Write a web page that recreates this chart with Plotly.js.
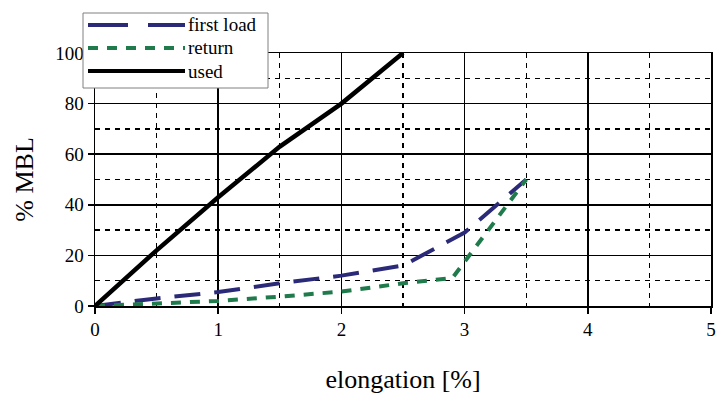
<!DOCTYPE html>
<html><head><meta charset="utf-8">
<script src="https://cdn.plot.ly/plotly-3.0.1.min.js"></script>
<style>html,body{margin:0;padding:0;background:#fff}</style>
</head><body>
<div id="chart" style="width:727px;height:408px"></div>
<script>
const seriesNames = ["first load", "return", "used"];
const firstLoadX = [0, 0.5, 1, 1.5, 2, 2.5, 3, 3.5];
const firstLoadY = [0, 3, 5.5, 9, 12, 16, 29, 50];
const returnX = [0, 0.5, 1, 1.5, 2, 2.5, 2.9, 3.5];
const returnY = [0, 1, 2, 3.7, 5.7, 9, 11, 50];
const usedX = [0, 0.5, 1, 1.5, 2, 2.5];
const usedY = [0, 22, 43, 63, 80, 100];
const xTicks = [0, 1, 2, 3, 4, 5];
const yTicks = [0, 20, 40, 60, 80, 100];

const colors = ["#2b2a78", "#1f7a4c", "#000000"];
const dashes = ["26px,14px", "10px,9px", "solid"];
const FONT = "Liberation Serif";

const traces = [
  {x: firstLoadX, y: firstLoadY, name: seriesNames[0], mode: "lines", line: {color: colors[0], width: 4, dash: dashes[0]}},
  {x: returnX, y: returnY, name: seriesNames[1], mode: "lines", line: {color: colors[1], width: 4, dash: dashes[1]}},
  {x: usedX, y: usedY, name: seriesNames[2], mode: "lines", line: {color: colors[2], width: 4.5, dash: dashes[2]}}
];

const W = 727, H = 408;
const ML = 95, MR = 16, MT = 53, MB = 102;
const PW = W - ML - MR, PH = H - MT - MB;
const px = (p) => (p - ML) / PW, py = (p) => (H - MB - p) / PH;
const shapes = [
  {type: "rect", xref: "paper", yref: "paper", x0: px(83), x1: px(268), y0: py(88), y1: py(13),
   line: {color: "#808080", width: 1}, fillcolor: "#ffffff", layer: "above"}
];
const annotations = [];
const rows = [25, 48, 71];
seriesNames.forEach((n, i) => {
  shapes.push({type: "line", xref: "paper", yref: "paper", x0: px(88), x1: px(185), y0: py(rows[i]), y1: py(rows[i]),
    line: {color: colors[i], width: 4, dash: i === 0 ? "40px,20px" : dashes[i]}, layer: "above"});
  annotations.push({xref: "paper", yref: "paper", x: px(186), y: py(rows[i]), xanchor: "left", yanchor: "middle",
    text: n, showarrow: false, font: {family: FONT, size: 19, color: "#000"}});
});

const layout = {
  width: W, height: H,
  margin: {l: ML, r: MR, t: MT, b: MB},
  paper_bgcolor: "#fff", plot_bgcolor: "#fff",
  showlegend: false,
  font: {family: FONT, size: 19, color: "#000"},
  xaxis: {
    range: [0, 5], tickvals: xTicks, ticktext: xTicks.map(String),
    showline: true, linecolor: "#000", linewidth: 1.5, mirror: true,
    ticks: "outside", ticklen: 6, tickcolor: "#000", tickwidth: 1.5,
    showgrid: true, gridcolor: "#000", gridwidth: 1.5, zeroline: false,
    minor: {dtick: 0.5, showgrid: true, gridcolor: "#000", gridwidth: 1.3, griddash: "5px,5px", ticks: ""},
    tickfont: {family: FONT, size: 19},
    title: {text: "elongation [%]", font: {family: FONT, size: 26}, standoff: 30}
  },
  yaxis: {
    range: [0, 100], tickvals: yTicks, ticktext: yTicks.map(String),
    showline: true, linecolor: "#000", linewidth: 1.5, mirror: true,
    ticks: "outside", ticklen: 6, tickcolor: "#000", tickwidth: 1.5,
    showgrid: true, gridcolor: "#000", gridwidth: 1.5, zeroline: false,
    minor: {dtick: 10, showgrid: true, gridcolor: "#000", gridwidth: 1.3, griddash: "5px,5px", ticks: ""},
    tickfont: {family: FONT, size: 19},
    title: {text: "% MBL", font: {family: FONT, size: 26}, standoff: 14}
  },
  shapes: shapes,
  annotations: annotations
};

Plotly.newPlot("chart", traces, layout, {displayModeBar: false, staticPlot: true});
</script>
</body></html>
